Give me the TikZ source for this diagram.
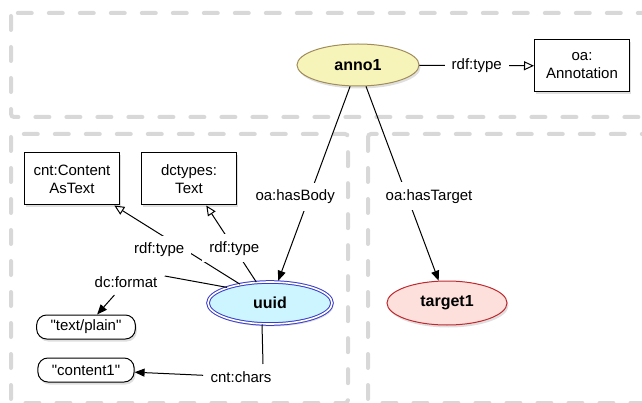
\documentclass[tikz,border=0pt]{standalone}
\usepackage{fontspec}
\setmainfont{Liberation Sans}
\newfontfamily\litfont{Liberation Sans}
\usetikzlibrary{shapes.geometric,arrows.meta,shadows}
\definecolor{framegray}{HTML}{D8D8D8}
\definecolor{annofill}{HTML}{F7F4BA}
\definecolor{annoline}{HTML}{A08C5A}
\definecolor{uuidfill}{HTML}{CCF5FF}
\definecolor{uuidline}{HTML}{3A3ACC}
\definecolor{targetfill}{HTML}{FDE0DC}
\definecolor{targetline}{HTML}{C0282D}
\begin{document}
\begin{tikzpicture}[x=1pt, y=-1pt, line width=1pt,
    frame/.style={draw=framegray, line width=4pt, dash pattern=on 14pt off 17pt,
      line cap=round, rounded corners=3pt},
    shade/.style={drop shadow={shadow xshift=1.5pt, shadow yshift=-2.5pt, opacity=0.25}},
    res/.style={ellipse, draw, minimum width=122pt, minimum height=42pt,
      inner sep=0pt, font=\fontsize{16}{18}\selectfont\bfseries, shade},
    cls/.style={rectangle, draw, fill=white, minimum width=95pt,
      minimum height=52pt, align=center, font=\fontsize{15}{18}\selectfont, shade},
    lit/.style={rectangle, rounded corners=10pt, draw, fill=white,
      inner xsep=14pt, inner ysep=0pt, minimum height=24pt,
      font=\litfont\fontsize{15}{18}\selectfont, shade},
    lbl/.style={fill=white, inner sep=7pt, font=\fontsize{15}{18}\selectfont},
    rel/.style={-{Triangle[length=10pt, width=8pt]}},
    typ/.style={-{Triangle[open, length=10pt, width=9pt]}},
  ]
    \useasboundingbox (0,0) rectangle (642,403);
    \clip (0,0) rectangle (642,403);

    % graph boxes
    \draw[frame] (11,13) rectangle (665,117);
    \draw[frame] (11,134) rectangle (348,403);
    \draw[frame] (368,134) rectangle (665,403);

    \node[res, fill=annofill, draw=annoline] (anno1) at (358,65) {anno1};
    \node[cls] (annotation) at (582,66) {oa:\\Annotation};
    \node[res, fill=uuidfill, draw=uuidline, double=white, double distance=1.6pt,
      minimum width=124pt, minimum height=42pt] (uuid) at (270,303) {uuid};
    \node[res, fill=targetfill, draw=targetline, minimum width=120pt, minimum height=44pt]
      (target1) at (447,303) {target1};
    \node[cls] (contentastext) at (72,179) {cnt:Content\\AsText};
    \node[cls] (dctext) at (189,179) {dctypes:\\Text};
    \node[lit] (textplain) at (86,327) {"text/plain"};
    \node[lit] (content1) at (86,370) {"content1"};

    \draw[typ] (anno1) -- node[lbl] (typelbl) {rdf:type} (annotation);
    \draw[rel, shorten >=1pt] (anno1) -- node[lbl, pos=0.567, xshift=-14pt] (bodylbl) {oa:hasBody} (uuid);
    \draw[rel] (anno1) -- node[lbl, pos=0.565, xshift=22pt] (targetlbl) {oa:hasTarget} (target1);

    \draw[typ] (uuid) -- node[lbl, pos=0.435, xshift=-26pt] (ctypelbl) {rdf:type} (contentastext);
    \draw[typ] (uuid) -- node[lbl, pos=0.44] (dtypelbl) {rdf:type} (dctext);

    \node[lbl] (formatlbl) at (126,282) {dc:format};
    \draw (uuid.160) -- ([yshift=6pt]formatlbl.east);
    \draw[rel] (formatlbl) -- (textplain);

    \node[lbl] (charslbl) at (241,377) {cnt:chars};
    \draw ([xshift=-8pt]uuid.south) -- ([xshift=22pt]charslbl.north);
    \draw[rel] (charslbl) -- (content1);
  \end{tikzpicture}
\end{document}
